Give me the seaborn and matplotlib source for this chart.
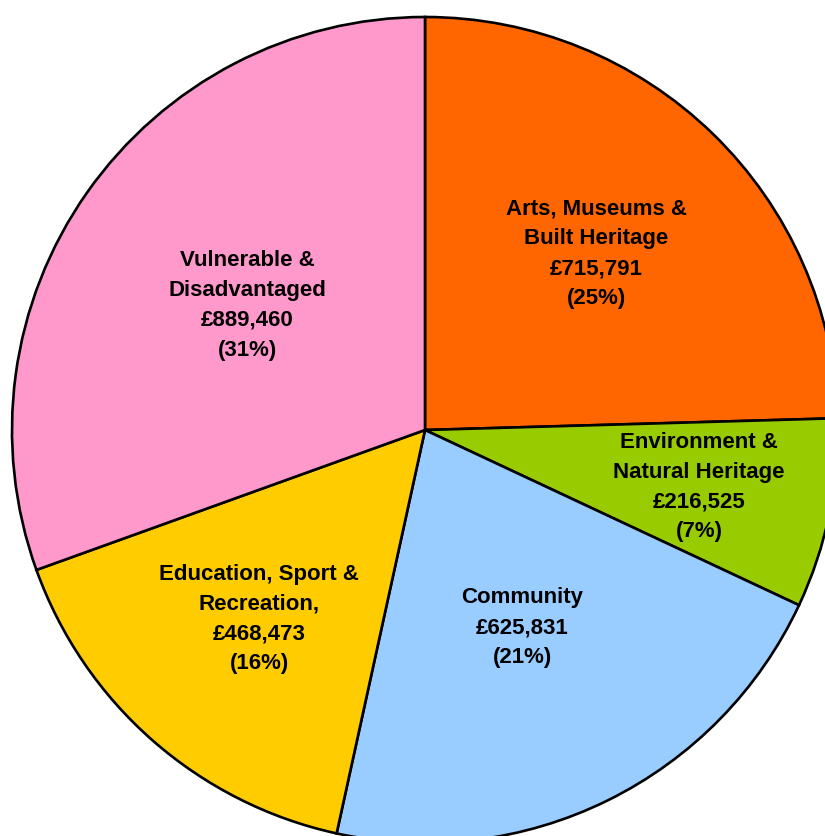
import numpy as np
import matplotlib
matplotlib.use("Agg")
import matplotlib.pyplot as plt
import seaborn as sns

# data
categories = ["Arts, Museums &\nBuilt Heritage", "Environment &\nNatural Heritage", "Community",
              "Education, Sport &\nRecreation,", "Vulnerable &\nDisadvantaged"]
amounts = [715791, 216525, 625831, 468473, 889460]
colors = ["#FF6600", "#99CC00", "#99CCFF", "#FFCC00", "#FF99CC"]

sns.set_style("white")
plt.rcParams["font.family"] = ["Liberation Sans", "DejaVu Sans"]

fig = plt.figure(figsize=(8.25, 8.36), dpi=100)
ax = fig.add_axes([0, 0, 1, 1])

total = sum(amounts)
wedges, _ = ax.pie(amounts, colors=colors, startangle=90, counterclock=False,
                   radius=1.0, center=(0, 0),
                   wedgeprops=dict(edgecolor="black", linewidth=1.9))

label_r = [0.595, 0.678, 0.534, 0.608, 0.525]
for w, cat, amt, r in zip(wedges, categories, amounts, label_r):
    mid = np.deg2rad((w.theta1 + w.theta2) / 2)
    txt = f"{cat}\n£{amt:,}\n({amt / total * 100:.0f}%)"
    ax.text(r * np.cos(mid), r * np.sin(mid), txt, ha="center", va="center",
            fontsize=16, fontweight="bold", linespacing=1.55, color="black")

# pie centre at (425, 430) px, radius 413 px
ax.set_xlim(-425 / 413, 400 / 413)
ax.set_ylim(-406 / 413, 430 / 413)
ax.set_aspect("auto")
ax.axis("off")

fig.savefig("out.png", dpi=100)
